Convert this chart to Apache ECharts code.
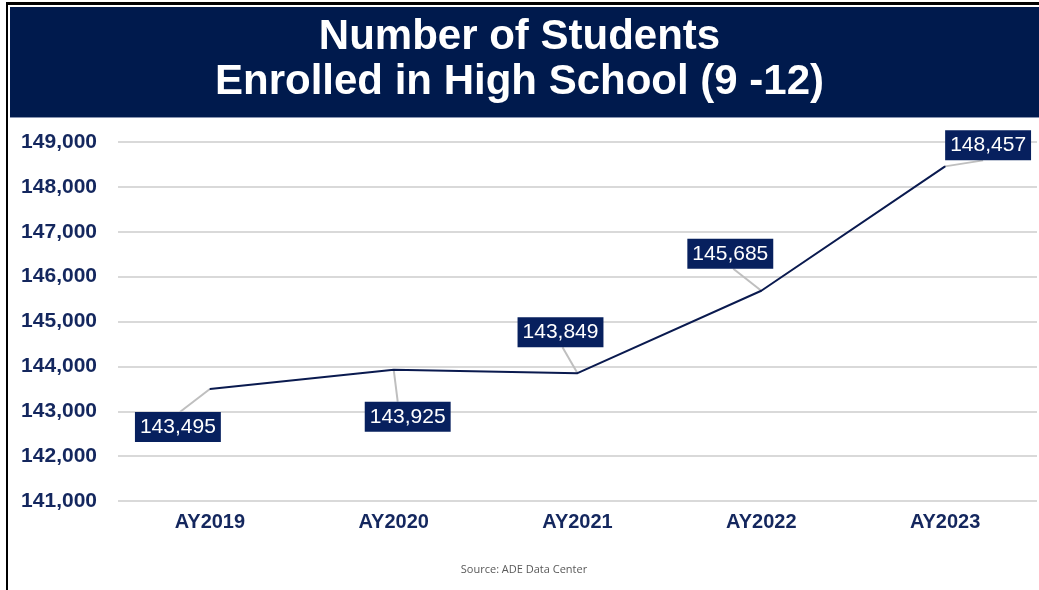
<!DOCTYPE html>
<html>
<head>
<meta charset="utf-8">
<script src="https://cdn.jsdelivr.net/npm/echarts@6/dist/echarts.min.js"></script>
<style>html,body{margin:0;padding:0;background:#fff;}#c{width:1039px;height:590px;}</style>
</head>
<body>
<div id="c"></div>
<script>
const categories = ['AY2019', 'AY2020', 'AY2021', 'AY2022', 'AY2023'];
const enrolled = [143495, 143925, 143849, 145685, 148457];
const yTicks = { min: 141000, max: 149000, interval: 1000 };
const labelOffsets = [[-32, 38], [14, 47], [-17, -41], [-31, -37], [43, -21]];
const labelEndX = [2, -10, 2, 3, -5];

const chart = echarts.init(document.getElementById('c'), null, { renderer: 'canvas' });
const fmt = v => v.toLocaleString('en-US');
const FONT = 'Liberation Sans, Arial, sans-serif';
const LABEL_H = 30;
chart.setOption({
  animation: false,
  backgroundColor: '#ffffff',
  graphic: [
    { type: 'rect', shape: { x: 6, y: 2, width: 1033, height: 3 }, style: { fill: '#000' }, z: 10 },
    { type: 'rect', shape: { x: 6, y: 2, width: 2, height: 588 }, style: { fill: '#000' }, z: 10 },
    { type: 'rect', shape: { x: 10, y: 7, width: 1029, height: 110 }, style: { fill: '#001a4d' }, z: 1 },
    { type: 'rect', shape: { x: 10, y: 117, width: 1029, height: 1 }, style: { fill: '#8894b0' }, z: 1 },
    { type: 'text', x: 524, y: 564, style: { text: 'Source: ADE Data Center', align: 'center', fill: '#595959', font: '11px "Open Sans", sans-serif' } }
  ],
  title: {
    text: 'Number of Students\nEnrolled in High School (9 -12)',
    left: 'center', top: 15, padding: [0, 0, 0, 10],
    textStyle: { color: '#ffffff', fontFamily: FONT, fontWeight: 'bold', fontSize: 42, lineHeight: 45 },
    z: 5
  },
  grid: { left: 118, right: 2, top: 142, bottom: 89 },
  xAxis: {
    type: 'category', data: categories, boundaryGap: true,
    axisLine: { show: false }, axisTick: { show: false },
    axisLabel: { color: '#14275e', fontWeight: 'bold', fontSize: 20, fontFamily: FONT, margin: 11 }
  },
  yAxis: {
    type: 'value', min: yTicks.min, max: yTicks.max, interval: yTicks.interval,
    axisLine: { show: false }, axisTick: { show: false },
    splitLine: { lineStyle: { color: '#d9d9d9', width: 2 } },
    axisLabel: { color: '#14275e', fontWeight: 'bold', fontSize: 21, fontFamily: FONT, margin: 21, formatter: v => fmt(v) }
  },
  series: [{
    type: 'custom', z: 1, silent: true,
    data: enrolled.map((v, i) => [i, v]),
    renderItem: (params, api) => {
      const i = params.dataIndex;
      const p = api.coord([api.value(0), api.value(1)]);
      const off = labelOffsets[i];
      const ex = p[0] + off[0] + labelEndX[i];
      const ey = p[1] + off[1] + (off[1] > 0 ? -LABEL_H / 2 : LABEL_H / 2);
      return { type: 'line', shape: { x1: p[0], y1: p[1], x2: ex, y2: ey }, style: { stroke: '#bfbfbf', lineWidth: 2 } };
    }
  }, {
    type: 'line', data: enrolled, z: 3,
    symbol: 'circle', symbolSize: 1, showSymbol: true,
    itemStyle: { color: '#0a1a4f' },
    lineStyle: { color: '#0a1a4f', width: 2 },
    label: {
      show: true, position: 'inside', formatter: p => fmt(p.value),
      color: '#ffffff', fontSize: 21, fontFamily: FONT,
      backgroundColor: '#07205e', padding: [5, 5, 4, 5]
    },
    labelLayout: p => ({ dx: labelOffsets[p.dataIndex][0], dy: labelOffsets[p.dataIndex][1] })
  }]
});
</script>
</body>
</html>
